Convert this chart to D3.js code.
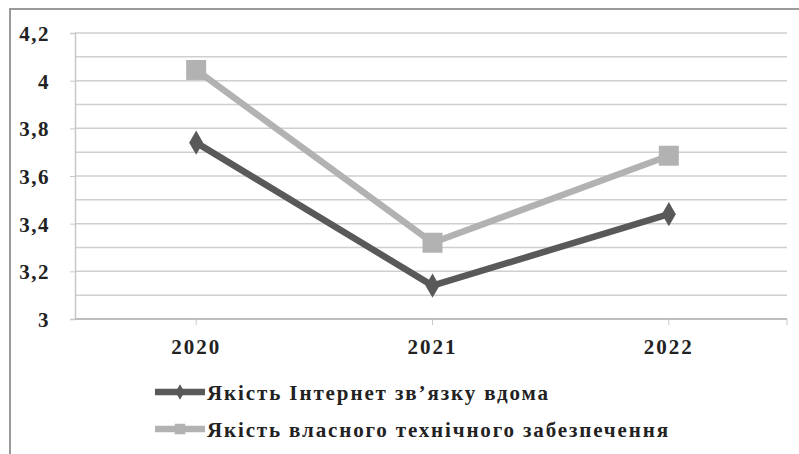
<!DOCTYPE html>
<html>
<head>
<meta charset="utf-8">
<script src="https://cdn.jsdelivr.net/npm/d3@7"></script>
<style>
  body { margin: 0; background: #fff; }
  svg { display: block; }
</style>
</head>
<body>
<div id="chart"></div>
<script>
const years = ["2020", "2021", "2022"];
const internetQuality = [3.74, 3.14, 3.44];
const equipmentQuality = [4.045, 3.32, 3.685];
const seriesNames = ["Якість Інтернет зв’язку вдома", "Якість власного технічного забезпечення"];
const yTicks = [3, 3.2, 3.4, 3.6, 3.8, 4, 4.2];

const width = 799, height = 454;
const margin = { top: 33, right: 12, bottom: 135, left: 75 };

const svg = d3.select("#chart").append("svg")
  .attr("width", width)
  .attr("height", height);

const styleText = sel => sel
  .attr("font-family", "Liberation Serif")
  .attr("font-weight", "bold")
  .attr("fill", "#222");

// frame
svg.append("path")
  .attr("d", `M10,${height} V9 H${width}`)
  .attr("fill", "none")
  .attr("stroke", "#9a9a9a")
  .attr("stroke-width", 2);

const x = d3.scaleBand()
  .domain(years)
  .range([78, 787]);

const y = d3.scaleLinear()
  .domain([3, 4.2])
  .range([height - margin.bottom, margin.top]);

const fmt = d => d3.format("~g")(d).replace(".", ",");

// gridlines (every 0.1)
const gridVals = d3.range(31, 43).map(v => v / 10);
svg.append("g")
  .selectAll("line")
  .data(gridVals)
  .join("line")
  .attr("x1", margin.left)
  .attr("x2", 787)
  .attr("y1", d => y(d))
  .attr("y2", d => y(d))
  .attr("stroke", "#cfcfcf")
  .attr("stroke-width", 1.5);

// y axis
const yAxis = svg.append("g")
  .attr("transform", `translate(${margin.left},0)`)
  .call(d3.axisLeft(y).tickValues(yTicks).tickFormat(fmt).tickSize(5).tickPadding(20));
yAxis.select(".domain").attr("stroke", "#c8c8c8").attr("stroke-width", 1.5);
yAxis.selectAll(".tick line").attr("stroke", "#c8c8c8");
yAxis.selectAll("text")
  .call(styleText)
  .attr("font-size", 21)
  .attr("letter-spacing", 1.5)
  .attr("dy", "0.36em");

// x axis
const xAxis = svg.append("g")
  .attr("transform", `translate(0,${y(3)})`);
xAxis.append("line")
  .attr("x1", margin.left).attr("x2", 787)
  .attr("stroke", "#bdbdbd").attr("stroke-width", 2);
xAxis.selectAll("line.tk")
  .data(years)
  .join("line")
  .attr("class", "tk")
  .attr("x1", d => x(d) + x.bandwidth() / 2)
  .attr("x2", d => x(d) + x.bandwidth() / 2)
  .attr("y1", 0).attr("y2", 6)
  .attr("stroke", "#c8c8c8");
xAxis.append("line")
  .attr("x1", 787).attr("x2", 787).attr("y1", 0).attr("y2", 6)
  .attr("stroke", "#c8c8c8");
xAxis.selectAll("text")
  .data(years)
  .join("text")
  .attr("x", d => x(d) + x.bandwidth() / 2)
  .attr("y", 35)
  .attr("text-anchor", "middle")
  .call(styleText)
  .attr("font-size", 21)
  .attr("letter-spacing", 2)
  .text(d => d);

const cx = d => x(d) + x.bandwidth() / 2;
const line = d3.line()
  .x((d, i) => cx(years[i]))
  .y(d => y(d));

const series = [
  { name: seriesNames[0], values: internetQuality, color: "#595959", marker: "diamond", width: 341 },
  { name: seriesNames[1], values: equipmentQuality, color: "#b2b2b2", marker: "square", width: 461 }
];

// draw light series first so dark sits on top where needed
series.slice().reverse().forEach(s => {
  svg.append("path")
    .datum(s.values)
    .attr("d", line)
    .attr("fill", "none")
    .attr("stroke", s.color)
    .attr("stroke-width", 6.5)
    .attr("stroke-linejoin", "round");

  const sym = s.marker === "square"
    ? d3.symbol().type(d3.symbolSquare).size(400)
    : d3.symbol().type(d3.symbolDiamond).size(170);
  svg.append("g")
    .selectAll("path")
    .data(s.values)
    .join("path")
    .attr("transform", (d, i) => `translate(${cx(years[i])},${y(d)})`)
    .attr("d", sym)
    .attr("fill", s.color);
});

// legend
const legend = svg.append("g");
series.forEach((s, i) => {
  const ly = 392 + i * 37;
  legend.append("line")
    .attr("x1", 155).attr("x2", 205)
    .attr("y1", ly).attr("y2", ly)
    .attr("stroke", s.color)
    .attr("stroke-width", 6.5);
  legend.append("path")
    .attr("transform", `translate(180,${ly})`)
    .attr("d", s.marker === "square"
      ? d3.symbol().type(d3.symbolSquare).size(110)()
      : d3.symbol().type(d3.symbolDiamond).size(70)())
    .attr("fill", s.color);
  legend.append("text")
    .attr("x", 207)
    .attr("y", ly + 8)
    .call(styleText)
    .attr("font-size", 21)
    .attr("textLength", s.width)
    .attr("lengthAdjust", "spacing")
    .text(s.name);
});
</script>
</body>
</html>
